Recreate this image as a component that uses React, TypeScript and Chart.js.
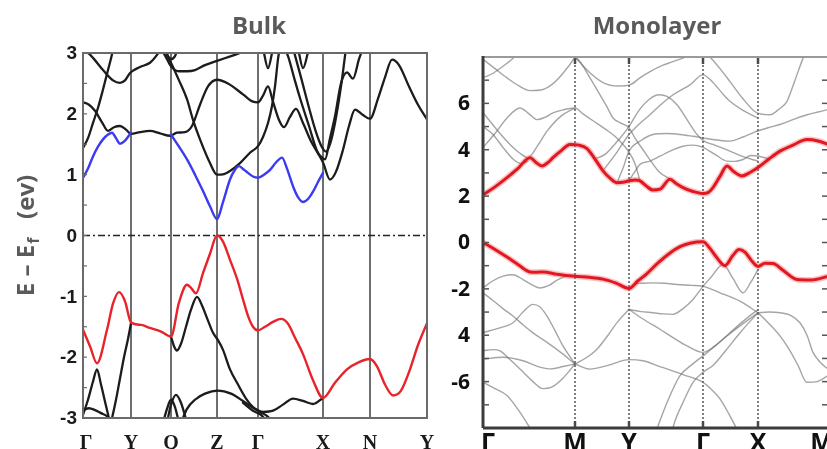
import React, { useEffect, useRef } from "react";
import { Chart, registerables } from "chart.js";
Chart.register(...registerables);

type P = [number, number][];

// ---------------- Bulk panel data ----------------
const bulkKPos = [0, 48, 88, 134, 175, 240, 287, 344];
const bulkKLabels = ["Γ", "Y", "Q", "Z", "Γ", "X", "N", "Y"];
const bulkTickValues = [3, 2, 1, 0, -1, -2, -3];
const bulkTickLabels = ["3", "2", "1", "0", "-1", "-2", "-3"];

const bulkRed: P = [[0,-1.55],[7,-1.82],[14,-2.1],[24,-1.55],[30,-1.12],[36,-0.93],[42,-1.08],[48,-1.43],[58,-1.47],[67,-1.52],[78,-1.58],[88,-1.66],[96,-1.1],[104,-0.81],[108,-0.86],[113,-0.95],[120,-0.62],[127,-0.3],[134,0],[140,-0.1],[147,-0.4],[154,-0.71],[160,-1.05],[165,-1.32],[170,-1.5],[175,-1.56],[182,-1.5],[190,-1.42],[198,-1.37],[205,-1.45],[212,-1.68],[220,-1.95],[230,-2.38],[240,-2.67],[252,-2.42],[264,-2.2],[276,-2.08],[287,-2.03],[294,-2.15],[302,-2.45],[310,-2.63],[318,-2.55],[327,-2.2],[335,-1.8],[344,-1.44]];
const bulkBlueA: P = [[0,0.95],[5,1.1],[10,1.3],[15,1.46],[20,1.58],[25,1.66],[29,1.69],[33,1.6],[37,1.51],[42,1.56],[48,1.69]];
const bulkBlueB: P = [[88,1.66],[96,1.46],[104,1.25],[112,1.0],[120,0.73],[127,0.48],[134,0.27],[140,0.55],[147,0.92],[152,1.08],[156,1.14],[161,1.08],[165,1.03],[170,0.97],[175,0.95],[181,1.0],[187,1.08],[193,1.2],[199,1.28],[204,1.1],[210,0.81],[215,0.63],[220,0.55],[225,0.6],[230,0.72],[235,0.88],[240,1.03]];

const bulkK1: P = [[0,1.44],[5,1.6],[10,1.85],[15,2.1],[20,2.4],[25,2.72],[29,2.98],[31,3.15]];
const bulkK2: P = [[0,2.19],[6,2.15],[12,2.05],[19,1.86],[25,1.72],[31,1.78],[37,1.8],[43,1.74],[48,1.67],[57,1.7],[67,1.72],[77,1.68],[87,1.64],[94,1.69],[102,1.7],[109,1.8],[117,2.15],[125,2.45],[134,2.56],[145,2.5],[160,2.32],[170,2.2],[175,2.19],[180,2.3],[185,2.45],[190,2.2],[196,1.9],[201,1.78],[207,1.95],[213,2.08],[220,1.85],[228,1.55],[235,1.35],[240,1.2],[247,0.92],[253,1.05],[260,1.41],[266,1.8],[272,2.07],[280,1.98],[287,1.92],[295,2.25],[302,2.6],[309,2.89],[316,2.8],[326,2.45],[335,2.15],[344,1.91]];
const bulkK3: P = [[80,3.1],[88,2.84],[96,2.55],[104,2.24],[110,1.9],[117,1.58],[127,1.19],[134,1.0],[141,1.01],[147,1.06],[157,1.19],[167,1.36],[175,1.47],[180,1.62],[185,1.85],[189,2.13],[192,2.45],[195,2.9],[197,3.1]];
const bulkK4: P = [[0,3.02],[5,3.0],[10,2.92],[20,2.72],[30,2.55],[37,2.51],[42,2.55],[47,2.67],[57,2.77],[67,2.84],[74,2.97],[78,3.08]];
const bulkK5: P = [[78,3.08],[84,2.9],[88,2.78],[96,2.7],[104,2.7],[112,2.72],[122,2.8],[134,2.87],[148,2.95],[160,3.02],[166,3.08]];
const bulkK6: P = [[82,3.08],[85,2.95],[88,2.9],[92,2.95],[95,3.08]];
const bulkK7: P = [[201,3.08],[205,2.95],[211,2.6],[217,2.26],[226,1.8],[234,1.39],[239,1.28],[242,1.25],[247,1.6],[252,1.96],[258,2.5],[264,2.68],[270,2.58],[276,2.9],[280,3.08]];
const bulkK8: P = [[210,3.08],[218,2.6],[226,2.1],[233,1.7],[239,1.45],[243,1.38],[247,1.5],[252,1.85],[258,2.45],[263,3.08]];
const bulkK9: P = [[180,3.08],[185,2.75],[190,3.08]];
const bulkK10: P = [[215,3.08],[220,2.75],[226,3.08]];
const bulkD1: P = [[28,-3.08],[33,-2.7],[37,-2.35],[41,-2.0],[45,-1.7],[48,-1.44]];
const bulkD2: P = [[0,-2.95],[5,-2.7],[10,-2.4],[14,-2.2],[18,-2.45],[23,-2.8],[27,-3.08]];
const bulkD3: P = [[0,-2.87],[6,-2.84],[12,-2.87],[18,-2.92],[24,-2.97],[30,-3.08]];
const bulkD4: P = [[88,-1.66],[91,-1.82],[94,-1.89],[98,-1.78],[103,-1.5],[108,-1.22],[114,-1.01],[119,-1.15],[125,-1.4],[130,-1.6],[135,-1.72],[140,-1.88],[147,-2.2],[155,-2.45],[163,-2.68],[170,-2.82],[177,-2.9],[185,-2.98],[190,-3.08]];
const bulkD5: P = [[98,-3.08],[104,-2.85],[112,-2.7],[122,-2.6],[135,-2.55],[148,-2.6],[160,-2.72],[170,-2.83],[180,-2.9],[190,-2.88],[200,-2.78],[210,-2.68],[220,-2.72],[230,-2.77],[240,-2.67]];
const bulkD6: P = [[80,-3.08],[84,-2.85],[88,-2.7],[92,-2.82],[96,-3.08]];
const bulkD7: P = [[84,-3.08],[88,-2.78],[93,-2.62],[98,-2.75],[104,-3.08]];
const bulkD8: P = [[160,-2.75],[170,-2.88],[178,-2.95],[185,-3.08]];
const bulkBlack = [bulkK1,bulkK2,bulkK3,bulkK4,bulkK5,bulkK6,bulkK7,bulkK8,bulkK9,bulkK10,bulkD1,bulkD2,bulkD3,bulkD4,bulkD5,bulkD6,bulkD7,bulkD8];

// ---------------- Monolayer panel data ----------------
const monoKPos = [0, 92, 146, 220, 275, 345];
const monoKLabels = ["Γ", "M", "Y", "Γ", "X", "M"];
const monoTickValues = [6, 4, 2, 0, -2, -4, -6];
const monoTickLabels = ["6", "4", "2", "0", "-2", "4", "-6"];

const monoRedC: P = [[0,2.05],[12,2.4],[24,2.8],[35,3.2],[47,3.66],[53,3.45],[59,3.3],[65,3.45],[70,3.66],[78,3.95],[87,4.23],[96,4.2],[104,4.05],[112,3.6],[120,3.09],[127,2.78],[134,2.58],[140,2.6],[146,2.66],[152,2.7],[157,2.66],[163,2.45],[170,2.26],[177,2.3],[187,2.73],[193,2.55],[200,2.37],[210,2.2],[220,2.11],[225,2.15],[230,2.37],[237,2.85],[244,3.3],[251,3.05],[259,2.87],[267,3.02],[275,3.23],[286,3.6],[297,3.94],[310,4.2],[324,4.44],[335,4.38],[345,4.23]];
const monoRedV: P = [[0,0.0],[12,-0.3],[24,-0.63],[36,-0.98],[47,-1.27],[54,-1.28],[60,-1.27],[74,-1.37],[92,-1.46],[106,-1.5],[120,-1.58],[133,-1.75],[146,-1.98],[155,-1.65],[164,-1.34],[175,-0.88],[187,-0.45],[197,-0.18],[207,-0.03],[220,0.03],[226,-0.2],[232,-0.55],[242,-1.0],[250,-0.55],[256,-0.3],[262,-0.42],[268,-0.75],[275,-1.03],[282,-0.9],[290,-0.91],[300,-1.2],[314,-1.6],[328,-1.62],[345,-1.46]];

const monoG1: P = [[0,7.9],[12,7.5],[24,7.1],[36,6.75],[47,6.55],[60,6.6],[70,6.85],[80,7.3],[92,8.0],[96,8.3]];
const monoG2: P = [[0,7.1],[10,7.3],[20,7.6],[30,7.95],[35,8.2]];
const monoG3: P = [[0,4.1],[12,4.7],[24,5.37],[37,5.8],[46,5.55],[54,5.3],[62,5.4],[70,5.59],[80,5.72],[92,5.8],[100,5.55],[110,5.25],[122,4.9],[134,4.5],[146,3.9],[152,3.4],[157,2.66]];
const monoG4: P = [[0,5.6],[7,5.23],[17,4.7],[27,4.23],[37,3.85],[45,3.66],[55,4.2],[64,4.8],[78,5.45],[92,5.8]];
const monoG5: P = [[0,5.0],[10,4.66],[20,4.1],[30,3.6],[38,3.4],[45,3.5]];
const monoG6: P = [[92,8.0],[97,7.8],[107,7.1],[117,6.37],[124,5.85],[130,5.37],[138,5.15],[146,4.95],[152,4.5],[160,4.0],[168,3.5],[176,3.05],[187,2.73]];
const monoG7: P = [[112,3.6],[122,3.8],[133,4.3],[146,5.0],[156,5.7],[167,6.2],[176,6.37],[184,6.3],[194,5.94],[204,5.3],[214,4.66],[222,4.35],[230,4.23],[247,3.94],[260,3.7],[275,3.51]];
const monoG8: P = [[120,3.09],[134,3.9],[146,4.66],[156,5.1],[167,5.51],[178,5.95],[190,6.37],[207,6.8],[220,7.23],[230,6.9],[240,6.4],[247,6.09],[260,5.7],[275,5.37]];
const monoG9: P = [[92,8.0],[105,7.4],[120,6.9],[135,6.75],[147,6.8],[157,7.1],[167,7.37],[180,7.65],[190,7.8],[205,8.05],[210,8.2]];
const monoG10: P = [[222,8.2],[227,8.0],[237,7.5],[247,6.94],[260,6.2],[274,5.59],[287,5.51],[296,5.75],[304,6.09],[312,7.0],[320,7.94],[324,8.3]];
const monoG11: P = [[274,4.8],[285,4.95],[297,5.09],[310,5.3],[324,5.51],[335,5.63],[345,5.73]];
const monoG12: P = [[134,2.58],[140,3.2],[146,3.94],[158,4.4],[170,4.66],[184,4.7],[197,4.66],[210,4.58],[220,4.51],[234,4.42],[247,4.37],[260,4.55],[274,4.8]];
const monoG13: P = [[146,2.66],[151,3.0],[157,3.37],[167,3.51],[177,3.72],[187,3.94],[200,4.15],[210,4.2],[220,4.1],[232,3.8],[244,3.51],[252,3.5],[260,3.58],[268,3.75],[276,3.72],[286,3.6]];
const monoS1: P = [[0,-1.95],[10,-1.65],[20,-1.45],[30,-1.39],[40,-1.6],[50,-1.85],[57,-1.96],[66,-1.85],[75,-1.6],[84,-1.46],[92,-1.45]];
const monoS2: P = [[0,-2.17],[10,-2.5],[20,-2.85],[30,-3.17],[40,-3.55],[50,-3.9],[64,-4.31],[78,-4.75],[92,-5.24]];
const monoS3: P = [[0,-3.89],[15,-3.7],[30,-3.46],[40,-3.0],[50,-2.67],[57,-2.78],[64,-3.17],[72,-3.8],[80,-4.46],[92,-5.24]];
const monoS4: P = [[0,-4.67],[10,-4.62],[17,-4.67],[27,-5.05],[37,-5.46],[50,-6.0],[60,-6.3],[68,-6.25],[80,-5.85],[92,-5.24]];
const monoS5: P = [[0,-5.03],[20,-4.95],[40,-5.1],[55,-5.35],[68,-5.45],[80,-5.35],[92,-5.24]];
const monoS6: P = [[0,-6.03],[12,-6.3],[24,-6.6],[35,-7.2],[47,-8.0],[50,-8.2]];
const monoS7: P = [[92,-5.24],[104,-4.95],[114,-4.6],[125,-4.0],[135,-3.4],[146,-2.89]];
const monoS8: P = [[92,-5.24],[107,-5.46],[125,-5.3],[146,-5.05],[160,-5.1],[177,-5.35],[200,-5.7],[220,-6.03],[230,-6.4],[237,-6.74],[246,-7.4],[254,-8.05],[258,-8.3]];
const monoS9: P = [[146,-1.98],[152,-1.8],[158,-1.76],[170,-1.74],[182,-1.76],[194,-1.81],[208,-1.85],[220,-1.89],[237,-2.17],[257,-2.53],[275,-3.03]];
const monoS10: P = [[146,-2.89],[158,-2.98],[170,-3.03],[180,-3.08],[190,-3.1],[200,-2.85],[210,-2.46],[220,-1.89],[228,-1.5],[240,-0.95],[250,-1.55],[260,-2.17],[268,-1.7],[275,-1.17]];
const monoS11: P = [[146,-2.89],[160,-3.3],[177,-3.74],[190,-4.1],[204,-4.46],[220,-4.74],[232,-4.45],[244,-4.03],[260,-3.5],[275,-3.03]];
const monoS12: P = [[172,-8.3],[176,-7.8],[185,-6.8],[197,-5.74],[208,-5.3],[220,-4.89],[234,-4.4],[247,-3.89],[260,-3.4],[275,-2.89]];
const monoS13: P = [[188,-8.3],[192,-7.7],[200,-6.9],[210,-6.03],[220,-5.6],[230,-5.3],[242,-4.7],[255,-4.0],[265,-3.5],[275,-3.03]];
const monoS14: P = [[275,-3.03],[286,-3.0],[297,-3.03],[308,-3.15],[317,-3.46],[324,-4.0],[330,-4.74],[338,-5.2],[345,-5.46]];
const monoS15: P = [[275,-3.03],[286,-3.5],[297,-4.03],[306,-4.6],[315,-5.3],[324,-6.03],[334,-6.0],[345,-5.74]];
const monoGray = [monoG1,monoG2,monoG3,monoG4,monoG5,monoG6,monoG7,monoG8,monoG9,monoG10,monoG11,monoG12,monoG13,monoS1,monoS2,monoS3,monoS4,monoS5,monoS6,monoS7,monoS8,monoS9,monoS10,monoS11,monoS12,monoS13,monoS14,monoS15];

// ---------------- helpers ----------------
const band = (pts: P, color: string, width: number) => ({
  data: pts.map(([x, y]) => ({ x, y })),
  borderColor: color,
  borderWidth: width,
  pointRadius: 0,
  fill: false,
  cubicInterpolationMode: "monotone" as const,
  borderCapStyle: "round" as const,
  borderJoinStyle: "round" as const,
});

function seg(ctx: CanvasRenderingContext2D, x1: number, y1: number, x2: number, y2: number) {
  ctx.beginPath();
  ctx.moveTo(x1, y1);
  ctx.lineTo(x2, y2);
  ctx.stroke();
}

const bulkPlugin = {
  id: "bulkDeco",
  beforeDatasetsDraw(chart: any) {
    const { ctx, chartArea: a, scales } = chart;
    const x = scales.x, y = scales.y;
    ctx.save();
    ctx.strokeStyle = "#6e6e6e";
    ctx.lineWidth = 2;
    bulkKPos.forEach((k) => {
      const px = x.getPixelForValue(k);
      seg(ctx, px, a.top, px, a.bottom);
    });
    const y0 = y.getPixelForValue(0);
    ctx.setLineDash([7, 3, 2, 3]);
    ctx.strokeStyle = "#222";
    ctx.lineWidth = 1.5;
    seg(ctx, a.left, y0, a.right, y0);
    ctx.restore();
  },
  afterDatasetsDraw(chart: any) {
    const { ctx, chartArea: a, scales } = chart;
    const x = scales.x, y = scales.y;
    ctx.save();
    ctx.strokeStyle = "#6a6a6a";
    ctx.lineWidth = 2;
    ctx.strokeRect(a.left, a.top, a.right - a.left, a.bottom - a.top);
    ctx.lineWidth = 1.2;
    for (let v = -3; v <= 3; v += 0.5) {
      const py = y.getPixelForValue(v);
      seg(ctx, a.left, py, a.left + 4, py);
    }
    ctx.fillStyle = "#1a1a1a";
    ctx.font = 'bold 19px "Liberation Sans"';
    ctx.textAlign = "right";
    ctx.textBaseline = "middle";
    bulkTickValues.forEach((v, i) => {
      ctx.fillText(bulkTickLabels[i], a.left - 6, y.getPixelForValue(v) + 1);
    });
    ctx.font = 'bold 20px "Liberation Serif"';
    ctx.textAlign = "center";
    ctx.textBaseline = "top";
    bulkKPos.forEach((k, i) => {
      ctx.fillText(bulkKLabels[i], x.getPixelForValue(k) + (i === 0 ? 3 : 0), 434);
    });
    ctx.fillStyle = "#5a5a5a";
    ctx.font = 'bold 24px "Open Sans"';
    ctx.textBaseline = "middle";
    ctx.fillText("Bulk", 259, 27);
    // y-axis title
    ctx.translate(27, 236);
    ctx.rotate(-Math.PI / 2);
    const p1 = "E – E", p2 = "f", p3 = "   (ev)";
    ctx.font = 'bold 24px "Open Sans"';
    const w1 = ctx.measureText(p1).width;
    const w3 = ctx.measureText(p3).width;
    ctx.font = 'bold 16px "Open Sans"';
    const w2 = ctx.measureText(p2).width;
    let sx = -(w1 + w2 + w3) / 2;
    ctx.textAlign = "left";
    ctx.textBaseline = "middle";
    ctx.font = 'bold 24px "Open Sans"';
    ctx.fillText(p1, sx, 0);
    sx += w1;
    ctx.font = 'bold 16px "Open Sans"';
    ctx.fillText(p2, sx + 1, 7);
    sx += w2 + 1;
    ctx.font = 'bold 24px "Open Sans"';
    ctx.fillText(p3, sx, 0);
    ctx.restore();
  },
};

const monoPlugin = {
  id: "monoDeco",
  beforeDatasetsDraw(chart: any) {
    const { ctx, chartArea: a, scales } = chart;
    const x = scales.x;
    ctx.save();
    ctx.strokeStyle = "#4a4a4a";
    ctx.lineWidth = 1.4;
    monoKPos.slice(1, -1).forEach((k) => {
      const px = x.getPixelForValue(k);
      ctx.setLineDash([2, 2]);
      seg(ctx, px, a.top, px, a.bottom);
      ctx.setLineDash([]);
      ctx.lineWidth = 2.5;
      seg(ctx, px, a.top, px, a.top + 7);
      seg(ctx, px, a.bottom - 7, px, a.bottom);
      ctx.lineWidth = 1.4;
    });
    ctx.restore();
  },
  afterDatasetsDraw(chart: any) {
    const { ctx, chartArea: a, scales } = chart;
    const x = scales.x, y = scales.y;
    ctx.save();
    ctx.strokeStyle = "#9a9a9a";
    ctx.lineWidth = 2;
    seg(ctx, a.left, a.top, a.right, a.top);
    seg(ctx, a.right, a.top, a.right, a.bottom);
    ctx.strokeStyle = "#3c3c3c";
    ctx.lineWidth = 3;
    seg(ctx, a.left, a.top - 1, a.left, a.bottom);
    seg(ctx, a.left, a.bottom, a.right, a.bottom);
    ctx.lineWidth = 1.5;
    ctx.strokeStyle = "#555";
    for (let v = -7; v <= 7; v += 1) {
      const py = y.getPixelForValue(v);
      seg(ctx, a.left, py, a.left + 6, py);
      seg(ctx, a.right - 6, py, a.right, py);
    }
    ctx.fillStyle = "#111";
    ctx.font = 'bold 21px "Open Sans"';
    ctx.textAlign = "right";
    ctx.textBaseline = "middle";
    monoTickValues.forEach((v, i) => {
      ctx.fillText(monoTickLabels[i], a.left - 13, y.getPixelForValue(v) + 1);
    });
    ctx.font = 'bold 25px "Open Sans"';
    ctx.textAlign = "center";
    ctx.textBaseline = "top";
    monoKPos.forEach((k, i) => {
      ctx.fillText(monoKLabels[i], x.getPixelForValue(k) + (i === 0 ? 5 : i === 5 ? -6 : 0), 431);
    });
    ctx.fillStyle = "#5a5a5a";
    ctx.font = 'bold 24px "Open Sans"';
    ctx.textBaseline = "middle";
    ctx.fillText("Monolayer", 217, 27);
    ctx.restore();
  },
};

const baseOptions = (xmax: number, ymin: number, ymax: number, padding: any) => ({
  responsive: false,
  animation: false as const,
  events: [] as any[],
  layout: { padding },
  plugins: { legend: { display: false }, tooltip: { enabled: false } },
  scales: {
    x: { type: "linear" as const, min: 0, max: xmax, display: false },
    y: { type: "linear" as const, min: ymin, max: ymax, display: false },
  },
});

export default function App() {
  const leftRef = useRef<HTMLCanvasElement>(null);
  const rightRef = useRef<HTMLCanvasElement>(null);

  useEffect(() => {
    const left = new Chart(leftRef.current as HTMLCanvasElement, {
      type: "line",
      data: {
        datasets: [
          band(bulkRed, "#e8232b", 2.4),
          band(bulkBlueA, "#3b3bef", 2.4),
          band(bulkBlueB, "#3b3bef", 2.4),
          ...bulkBlack.map((b) => band(b, "#1c1c1c", 2.3)),
        ] as any,
      },
      options: baseOptions(344, -3, 3, { left: 83, right: 13, top: 53, bottom: 31 }) as any,
      plugins: [bulkPlugin],
    });
    const right = new Chart(rightRef.current as HTMLCanvasElement, {
      type: "line",
      data: {
        datasets: [
          band(monoRedC, "#e3171f", 3),
          band(monoRedV, "#e3171f", 3),
          band(monoRedC, "rgba(235,90,95,0.35)", 6),
          band(monoRedV, "rgba(235,90,95,0.35)", 6),
          ...monoGray.map((b) => band(b, "rgba(105,105,105,0.6)", 1.4)),
        ] as any,
      },
      options: baseOptions(345, -8, 8, { left: 43, right: 12, top: 57, bottom: 21 }) as any,
      plugins: [monoPlugin],
    });
    return () => {
      left.destroy();
      right.destroy();
    };
  }, []);

  return (
    <div style={{ position: "absolute", left: 0, top: 0, width: 827, height: 449, overflow: "hidden", background: "#fff" }}>
      <canvas ref={leftRef} width={440} height={449} style={{ position: "absolute", left: 0, top: 0, width: 440, height: 449 }} />
      <canvas ref={rightRef} width={400} height={449} style={{ position: "absolute", left: 440, top: 0, width: 400, height: 449 }} />
    </div>
  );
}
